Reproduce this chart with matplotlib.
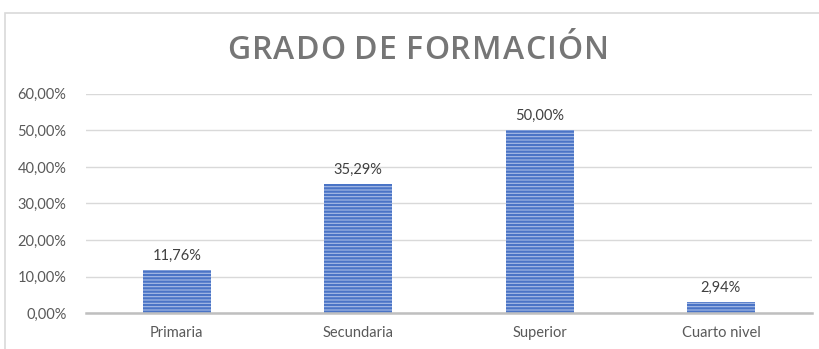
import matplotlib.pyplot as plt
from matplotlib.patches import Rectangle
from matplotlib.ticker import FuncFormatter

plt.rcParams['font.family'] = ['Lato', 'DejaVu Sans']
plt.rcParams['hatch.linewidth'] = 1.6

categorias = ['Primaria', 'Secundaria', 'Superior', 'Cuarto nivel']
porcentajes = [0.1176, 0.3529, 0.5000, 0.0294]

fig = plt.figure(figsize=(8.19, 3.49), dpi=100)
ax = fig.add_axes([0.105, 0.103, 0.886, 0.628])

# marco del gráfico
fig.patches.append(Rectangle((5 / 819, -0.1), 1.2, 1 - 13 / 349 + 0.1,
                             transform=fig.transFigure, fill=False,
                             edgecolor='#d9d9d9', linewidth=1.2))

barras = ax.bar(range(len(categorias)), porcentajes, width=0.375,
                color='#a9bde6', edgecolor='#4a74c6', linewidth=0,
                hatch='-----', zorder=3)

for i, v in enumerate(porcentajes):
    ax.text(i, v + 0.02, f'{v * 100:.2f}%'.replace('.', ','),
            ha='center', va='bottom', fontsize=10.5, color='#404040')

ax.set_xlim(-0.5, len(categorias) - 0.5)
ax.set_ylim(0, 0.6)
ax.set_yticks([0, 0.1, 0.2, 0.3, 0.4, 0.5, 0.6])
ax.yaxis.set_major_formatter(FuncFormatter(
    lambda y, _: f'{y * 100:.2f}%'.replace('.', ',')))
ax.set_xticks(range(len(categorias)))
ax.set_xticklabels(categorias)
ax.tick_params(axis='both', length=0, labelsize=10.5, labelcolor='#595959')
ax.tick_params(axis='x', pad=9)
ax.tick_params(axis='y', pad=14)
ax.grid(axis='y', color='#d9d9d9', linewidth=1, zorder=0)
for s in ['top', 'right', 'left']:
    ax.spines[s].set_visible(False)
ax.spines['bottom'].set_color('#bfbfbf')
ax.spines['bottom'].set_linewidth(1.8)
ax.spines['bottom'].set_zorder(4)

# título con espaciado entre letras
titulo = 'GRADO DE FORMACIÓN'
tam = 23
r = fig.canvas.get_renderer()
anchos = []
for c in titulo:
    tmp = fig.text(0, 0, c, fontsize=tam, fontweight='semibold',
                   family=['Open Sans', 'DejaVu Sans'])
    anchos.append(tmp.get_window_extent(r).width if c != ' ' else 6.5)
    tmp.remove()
espacio = 1.2
total = sum(anchos) + espacio * (len(titulo) - 1)
x = 418 - total / 2
for c, w in zip(titulo, anchos):
    fig.text(x / 819, 0.855, c, ha='left', va='center', fontsize=tam,
             fontweight='semibold', color='#767676',
             family=['Open Sans', 'DejaVu Sans'])
    x += w + espacio

fig.savefig('out.png', dpi=100)
